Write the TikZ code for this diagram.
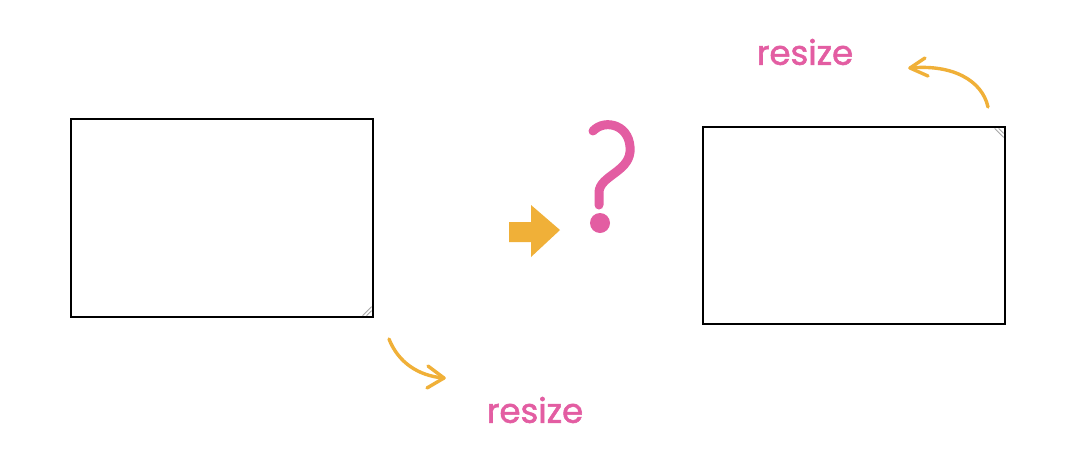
\documentclass[tikz,border=0pt]{standalone}
\usepackage{fontspec}
\setmainfont{Poppins}
\newfontfamily\lblfont{Poppins}[FakeBold=1.6]
\definecolor{pinkc}{HTML}{E35DA2}
\definecolor{orangec}{HTML}{F0B038}
\begin{document}
\begin{tikzpicture}[x=1pt,y=-1pt,
  win/.style={draw=black,line width=1.2pt,fill=white},
  hatch/.style={draw=gray!70,line width=0.9pt},
  curvearrow/.style={draw=orangec,line width=3.4pt,line cap=round,line join=round},
  lbl/.style={text=pinkc,font=\lblfont\fontsize{34}{34}\selectfont,inner sep=0pt}]
\useasboundingbox (0,0) rectangle (1080,472);
\fill[white] (0,0) rectangle (1080,472);
% left window
\node[win,minimum width=302pt,minimum height=198pt,inner sep=0pt] (w1) at (222,218) {};
\draw[hatch] ([xshift=-11pt,yshift=2pt]w1.south east) -- ([xshift=-2pt,yshift=11pt]w1.south east);
\draw[hatch] ([xshift=-7pt,yshift=2pt]w1.south east) -- ([xshift=-2pt,yshift=7pt]w1.south east);
% right window
\node[win,minimum width=302pt,minimum height=197pt,inner sep=0pt] (w2) at (854,225.5) {};
\draw[hatch] ([xshift=-11pt,yshift=-2pt]w2.north east) -- ([xshift=-2pt,yshift=-11pt]w2.north east);
\draw[hatch] ([xshift=-7pt,yshift=-2pt]w2.north east) -- ([xshift=-2pt,yshift=-7pt]w2.north east);
% labels
\node[lbl] (r1) at (535,410) {resize};
\node[lbl] (r2) at (805,52) {resize};
% curved arrows
\coordinate (a1s) at (389,339);
\coordinate (a1e) at (444,378);
\draw[curvearrow] (a1s) .. controls (398,362) and (418,376) .. (a1e);
\draw[curvearrow] (428,366) -- (a1e) -- (427,388);
\coordinate (a2s) at (988,107);
\coordinate (a2e) at (910,68);
\draw[curvearrow] (a2s) .. controls (982,80) and (952,64) .. (a2e);
\draw[curvearrow] (925,58) -- (a2e) -- (928,76);
% block arrow
\fill[orangec] (509,222) -- (531,222) -- (531,205) -- (560,230) -- (531,257) -- (531,242) -- (509,242) -- cycle;
% question mark
\coordinate (qs) at (593,131);
\draw[pinkc,line width=9pt,line cap=round] (qs) .. controls (605,118) and (632,125) .. (630,152)
  .. controls (628,172) and (600,176) .. (599,192) -- (599,205);
\fill[pinkc] (600,223) circle (10pt);
\end{tikzpicture}
\end{document}
